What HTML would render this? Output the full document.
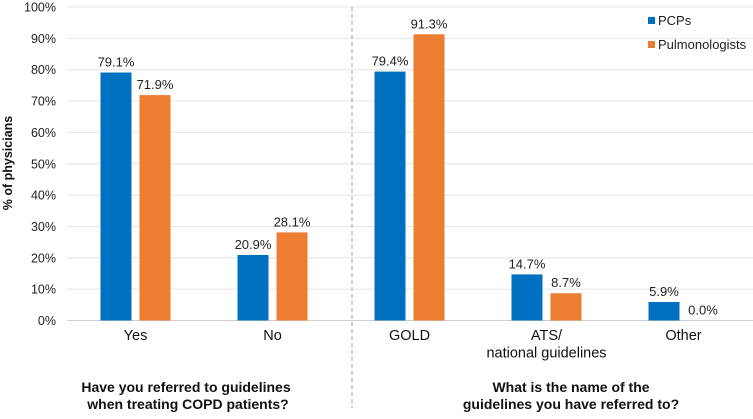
<!DOCTYPE html>
<html><head><meta charset="utf-8"><style>
body{margin:0;background:#fff;font-family:"Liberation Sans",Arial,sans-serif}
svg text{font-family:"Liberation Sans",Arial,sans-serif}
</style></head><body>
<svg id="c" width="753" height="414"></svg>
<script>
const categories=["Yes","No","GOLD","ATS/|national guidelines","Other"];
const pcps=[79.1,20.9,79.4,14.7,5.9];
const pulmo=[71.9,28.1,91.3,8.7,0.0];
const yTicks=[0,10,20,30,40,50,60,70,80,90,100];
const NS="http://www.w3.org/2000/svg";
const svg=document.getElementById('c');
const x0=67,bandW=137,y0=320.5,y100=7;
const y=v=>y0-(y0-y100)*v/100;
const bx=i=>x0+bandW*i+bandW/2;
function el(t,a,txt){const e=document.createElementNS(NS,t);for(const k in a)e.setAttribute(k,a[k]);if(txt!==undefined)e.textContent=txt;svg.appendChild(e);return e;}
yTicks.forEach(t=>{
 const g=el('line',{x1:x0,x2:753,y1:y(t),y2:y(t),stroke:t===0?'#d0d0d0':'#e4e4e4','stroke-width':1});
 
 
 const l=el('text',{x:56,y:y(t)+4.5,'text-anchor':'end','font-size':12.5,fill:'#222'},t+'%');
 
 
});
const d=el('line',{x1:352,x2:352,y1:7,y2:408,stroke:'#a0a0a0','stroke-width':1,'stroke-dasharray':'4,3'});


categories.forEach((c,i)=>{
 const cx=bx(i);
 [[pcps[i],cx-35,'#0070c0','bar-pcps'],[pulmo[i],cx+4,'#ed7d31','bar-pulmonologists']].forEach(([v,xx,col,nm])=>{
  const r=el('rect',{x:xx,y:y(v),width:31,height:y0-y(v),fill:col});
  
  
  const t=el('text',{x:xx+15.5,y:y(v)-6,'text-anchor':'middle','font-size':13,fill:'#222'},v.toFixed(1)+'%');
  
  
 });
 c.split('|').forEach((p,j)=>{
  const t=el('text',{x:cx,y:340+j*17.5,'text-anchor':'middle','font-size':14.5,fill:'#111'},p);
  
  
 });
});
const yt=el('text',{x:0,y:0,transform:'translate(12,163) rotate(-90)','text-anchor':'middle','font-size':12.5,'font-weight':'bold',fill:'#111'},'% of physicians');


[["Have you referred to guidelines",186,392],["when treating COPD patients?",188,409],["What is the name of the",571,392],["guidelines you have referred to?",571,409]].forEach(([s,xx,yy])=>{
 const t=el('text',{x:xx,y:yy,'text-anchor':'middle','font-size':14,'font-weight':'bold',fill:'#111'},s);
 
 
});
[["PCPs",'#0070c0',25],["Pulmonologists",'#ed7d31',49]].forEach(([s,col,yy])=>{
 const r=el('rect',{x:648,y:yy-8,width:7,height:7,fill:col});
 
 
 const t=el('text',{x:658,y:yy,'font-size':13,fill:'#222'},s);
 
 
});
</script>
</body></html>
